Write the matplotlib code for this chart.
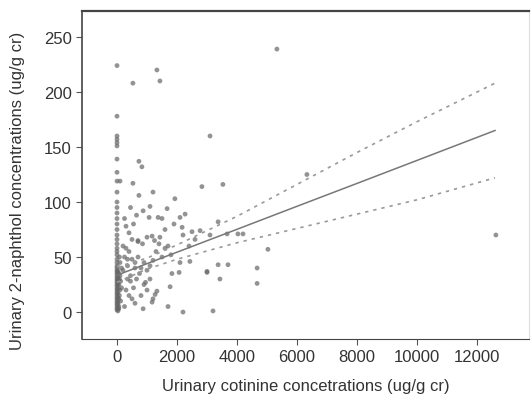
import numpy as np
import matplotlib.pyplot as plt

plt.rcParams['font.family'] = ['Liberation Sans', 'DejaVu Sans']

# scatter points (cotinine, 2-naphthol)
x_col = [0, 0, 0, 0, 0, 0, 0, 0, 0, 0, 0, 0, 0, 0, 0, 0, 0, 0, 0, 0,
         0, 0, 0, 0, 0, 0, 0, 0, 0, 0, 0, 0, 0, 0, 0, 0, 0, 0, 0, 0,
         0, 0, 0, 0, 0, 60, 80, 60, 100, 80, 120, 60, 100, 150, 80, 120, 60, 150, 100, 60,
         30, 30, 30, 30, 30, 30, 30, 30, 30, 30, 30, 30]
y_col = [224, 178, 160, 157, 154, 151, 139, 127, 119, 109, 100, 95, 90, 85, 80, 75, 70, 66, 62, 58,
         55, 52, 48, 45, 42, 40, 38, 36, 34, 32, 30, 28, 26, 24, 22, 20, 18, 16, 14, 12,
         10, 8, 6, 4, 2, 35, 30, 25, 20, 15, 10, 5, 45, 40, 50, 28, 12, 22, 33, 3,
         1, 3, 7, 9, 13, 17, 21, 25, 29, 31, 35, 37]

x_pts = [530, 1330, 1430, 3100, 5330, 730, 830, 100, 530, 730, 1200, 2830, 3530, 1930,
         870, 1100, 1670, 1070, 1370, 2270, 2100, 2170, 2500, 2770, 3370, 700, 1170, 1430,
         6330, 3100, 3670, 4030, 4200, 5030, 3000, 3370, 3700, 3430, 4670, 4670, 3200, 12630,
         1830, 2070, 1770, 1700, 2200, 3000, 2430, 2100, 870, 1170, 1270, 1330,
         200, 300, 250, 400, 500, 350, 600, 700, 800, 900, 1000, 1100, 1200, 750, 650, 450,
         550, 300, 400, 500, 600, 250, 350, 900, 1000, 800, 1100, 1200, 1300, 1500, 1600,
         1700, 1800, 1400, 1250, 1000, 850, 700, 500, 400, 300, 550, 650, 450, 250, 1900,
         2200, 2400, 2600, 1600, 1500, 200, 350, 450, 600, 950]
y_pts = [208, 220, 210, 160, 239, 137, 132, 119, 117, 106, 109, 114, 116, 103,
         92, 96, 94, 86, 86, 89, 86, 77, 73, 74, 82, 65, 69, 68,
         125, 70, 71, 71, 71, 57, 36, 43, 43, 30, 40, 26, 1, 70,
         35, 36, 23, 5, 0, 37, 46, 45, 3, 9, 16, 19,
         60, 58, 50, 55, 48, 42, 45, 50, 40, 45, 38, 42, 47, 35, 30, 28,
         22, 20, 15, 12, 8, 5, 30, 25, 20, 15, 30, 12, 55, 50, 58,
         60, 52, 62, 65, 68, 62, 64, 66, 72, 78, 80, 88, 95, 85, 80,
         70, 60, 66, 75, 85, 38, 48, 33, 40, 27]

# fitted line and 95% confidence band
fit_x = [0, 1000, 2000, 4000, 6000, 8000, 10000, 12600]
fit_y = [33.5, 44, 54.4, 75.2, 96.1, 116.9, 137.8, 165]
ci_upper = [41, 49, 61, 87, 116, 145, 173, 208]
ci_lower = [27, 39, 48, 63, 76, 89, 102, 122]

fig = plt.figure(figsize=(5.31, 4.14), dpi=100)
ax = fig.add_axes([82/531, 74/414, 447/531, 328/414])

ax.scatter(x_col + x_pts, y_col + y_pts, s=12, color='#666666', alpha=0.7,
           edgecolors='none', zorder=3)
ax.plot(fit_x, fit_y, color='#777777', lw=1.1, zorder=4)
ax.plot(fit_x, ci_upper, color='#9a9a9a', lw=1.2, ls=(0, (2, 3)), zorder=4)
ax.plot(fit_x, ci_lower, color='#9a9a9a', lw=1.2, ls=(0, (2, 3)), zorder=4)

ax.set_xlim(-1167, 13733)
ax.set_ylim(-24.5, 273.6)
ax.set_xticks([0, 2000, 4000, 6000, 8000, 10000, 12000])
ax.set_yticks([0, 50, 100, 150, 200, 250])
ax.tick_params(labelsize=12, length=4, color='#555555', labelcolor='#333333')

for side in ['left', 'bottom', 'top']:
    ax.spines[side].set_color('#444444')
ax.spines['top'].set_linewidth(1.6)
ax.spines['left'].set_linewidth(1.2)
ax.spines['right'].set_color('#dddddd')

ax.set_xlabel('Urinary cotinine concetrations (ug/g cr)', fontsize=12,
              color='#333333', labelpad=10)
fig.text(18/531, 1 - 191/414, 'Urinary 2-naphthol concentrations (ug/g cr)',
         rotation=90, fontsize=12, color='#333333', ha='center', va='center')

fig.savefig('out.png', dpi=100)
